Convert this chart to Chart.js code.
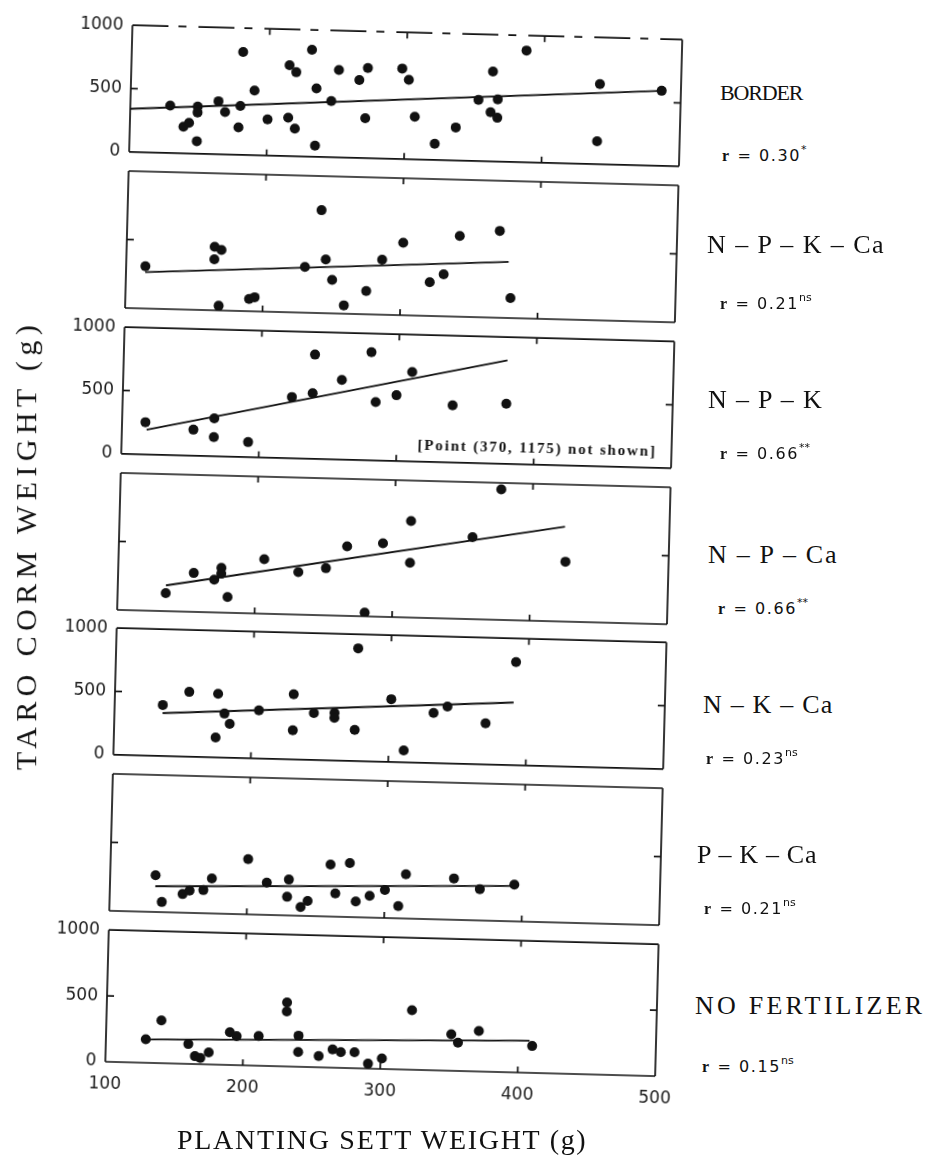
<!DOCTYPE html>
<html lang="en">
<head>
<meta charset="UTF-8" />
<title>Taro corm weight vs planting sett weight</title>
<script src="https://cdn.jsdelivr.net/npm/chart.js"></script>
<style>
  body { margin: 0; background: #fff; width: 932px; height: 1165px; overflow: hidden; position: relative; color: #111; }
  #fig { position: absolute; left: 0; top: 0; width: 932px; height: 1165px; transform: rotate(1.5deg); transform-origin: 466px 582px; }
  canvas { position: absolute; }
  .lbl { position: absolute; white-space: nowrap; line-height: 1; }
  .lbl sup { font-size: 11px; vertical-align: 8px; letter-spacing: 0; }
  .rr { font-family: "Liberation Serif", serif; font-weight: bold; }
</style>
</head>
<body>
<div id="fig"></div>
<script>
  // axis ticks
  const xTicks = [100, 200, 300, 400, 500];
  const yTicks = [0, 500, 1000];

  // treatments, top to bottom, with their correlation and significance
  const treatments = ["BORDER", "N-P-K-Ca", "N-P-K", "N-P-Ca", "N-K-Ca", "P-K-Ca", "NO FERTILIZER"];
  const rValues = ["0.30", "0.21", "0.66", "0.66", "0.23", "0.21", "0.15"];
  const rSig = ["*", "ns", "**", "**", "ns", "ns", "ns"];

  // planting sett weight (g) / taro corm weight (g)
  const borderX = [129, 139, 143, 149, 149, 149, 164, 169, 179, 180, 181, 190, 200, 215, 215, 220, 220, 231, 235, 235, 246, 251, 266, 271, 272, 297, 302, 307, 322, 337, 353, 363, 362, 367, 367, 387, 441, 440, 486];
  const borderY = [373, 210, 241, 98, 372, 325, 418, 334, 215, 385, 812, 510, 285, 302, 717, 663, 217, 844, 540, 87, 443, 690, 614, 315, 712, 714, 627, 336, 127, 260, 483, 710, 388, 345, 491, 882, 632, 180, 592];
  const borderFit = [[100, 340], [486, 592]];

  const npkcaX = [114, 164, 169, 164, 168, 190, 194, 230, 241, 245, 250, 259, 275, 286, 301, 321, 331, 342, 371, 380];
  const npkcaY = [308, 464, 441, 372, 34, 90, 103, 334, 751, 392, 244, 61, 170, 401, 529, 246, 307, 590, 634, 146];
  const npkcaFit = [[114, 265], [378, 409]];

  const npkX = [117, 152, 167, 167, 192, 223, 239, 238, 259, 280, 284, 299, 310, 340, 379];
  const npkY = [254, 205, 299, 151, 118, 483, 823, 518, 629, 853, 461, 519, 705, 450, 475];
  const npkFit = [[118, 195], [379, 817]];

  const npcaX = [135, 155, 170, 175, 175, 180, 206, 231, 251, 266, 280, 292, 312, 312, 357, 377, 425];
  const npcaY = [132, 284, 239, 326, 284, 115, 398, 310, 344, 507, 28, 537, 704, 399, 598, 952, 437];
  const npcaFit = [[135, 188], [424, 693]];

  const nkcaX = [135, 154, 175, 174, 180, 184, 205, 230, 230, 245, 260, 260, 276, 275, 301, 311, 332, 342, 370, 391];
  const nkcaY = [402, 511, 502, 157, 347, 267, 379, 514, 230, 369, 375, 336, 890, 245, 495, 93, 396, 449, 324, 814];
  const nkcaFit = [[135, 338], [390, 494]];

  const pkcaX = [133, 138, 153, 158, 168, 174, 200, 214, 230, 229, 239, 244, 260, 264, 274, 279, 289, 300, 310, 315, 350, 369, 394];
  const pkcaY = [268, 74, 136, 162, 169, 256, 403, 236, 262, 136, 64, 109, 379, 170, 394, 115, 159, 205, 89, 323, 302, 229, 268];
  const pkcaFit = [[133, 188], [393, 258]];

  const noneX = [129, 140, 160, 165, 169, 175, 190, 195, 211, 231, 231, 240, 240, 255, 265, 271, 281, 291, 301, 322, 351, 356, 371, 410];
  const noneY = [178, 324, 151, 60, 47, 91, 248, 220, 225, 486, 417, 236, 112, 86, 139, 119, 122, 37, 79, 452, 277, 214, 307, 204];
  const noneFit = [[129, 178], [408, 244]];

  const panels = [
    { x: borderX, y: borderY, fit: borderFit },
    { x: npkcaX, y: npkcaY, fit: npkcaFit },
    { x: npkX, y: npkY, fit: npkFit },
    { x: npcaX, y: npcaY, fit: npcaFit },
    { x: nkcaX, y: nkcaY, fit: nkcaFit },
    { x: pkcaX, y: pkcaY, fit: pkcaFit },
    { x: noneX, y: noneY, fit: noneFit },
  ];

  // layout (before the slight scan rotation of #fig)
  const plotLeft = 118, plotRight = 668, plotH = 137, canvasW = 700, pad = 14;
  const panelTops = [29, 180, 331, 482, 632, 783, 934];

  // frame with inward ticks, like the printed figure
  const framePlugin = {
    id: "frame",
    afterDraw(chart, args, opts) {
      const { ctx, chartArea: a, scales: { x, y } } = chart;
      const seg = (x1, y1, x2, y2) => { ctx.beginPath(); ctx.moveTo(x1, y1); ctx.lineTo(x2, y2); ctx.stroke(); };
      ctx.save();
      ctx.strokeStyle = "#111";
      ctx.lineWidth = 1.7;
      if (opts.dashTop) ctx.setLineDash([36, 10, 8, 12]);
      seg(a.left, a.top, a.right, a.top);
      ctx.setLineDash([]);
      seg(a.left, a.bottom, a.right, a.bottom);
      seg(a.left, a.top, a.left, a.bottom);
      seg(a.right, a.top, a.right, a.bottom);
      xTicks.slice(1, -1).forEach((v) => {
        const px = x.getPixelForValue(v);
        seg(px, a.top, px, a.top + 6);
        seg(px, a.bottom, px, a.bottom - 6);
      });
      const py = y.getPixelForValue(500);
      seg(a.left, py, a.left + 7, py);
      seg(a.right, py, a.right - 7, py);
      ctx.restore();
    },
  };

  const fig = document.getElementById("fig");
  const tickFont = { family: "DejaVu Sans", size: 17 };

  panels.forEach((p, i) => {
    const last = i === panels.length - 1;
    const showY = i % 2 === 0;
    const xAxisH = last ? 46 : 0;
    const cv = document.createElement("canvas");
    cv.width = canvasW;
    cv.height = pad + plotH + (last ? xAxisH : pad);
    cv.style.left = "0px";
    cv.style.top = panelTops[i] - pad + "px";
    fig.appendChild(cv);

    new Chart(cv.getContext("2d"), {
      type: "scatter",
      data: {
        datasets: [
          {
            type: "line",
            data: p.fit.map((d) => ({ x: d[0], y: d[1] })),
            borderColor: "#111",
            borderWidth: 1.8,
            pointRadius: 0,
            fill: false,
          },
          {
            data: p.x.map((v, k) => ({ x: v, y: p.y[k] })),
            backgroundColor: "#111",
            borderWidth: 0,
            pointRadius: 5,
          },
        ],
      },
      options: {
        responsive: false,
        animation: false,
        devicePixelRatio: 1,
        layout: { padding: { left: 0, right: canvasW - plotRight, top: pad, bottom: last ? 0 : pad } },
        plugins: { legend: { display: false }, tooltip: { enabled: false }, frame: { dashTop: i === 0 } },
        scales: {
          x: {
            type: "linear",
            min: 100,
            max: 500,
            afterBuildTicks: (s) => { s.ticks = xTicks.map((v) => ({ value: v })); },
            afterFit: (s) => { s.height = xAxisH; },
            grid: { display: false, drawTicks: false },
            border: { display: false },
            ticks: { display: last, autoSkip: false, maxRotation: 0, padding: 12, font: tickFont, color: "#1a1a1a", callback: (v) => String(v) },
          },
          y: {
            min: 0,
            max: 1000,
            afterBuildTicks: (s) => { s.ticks = yTicks.map((v) => ({ value: v })); },
            afterFit: (s) => { s.width = plotLeft; },
            grid: { display: false, drawTicks: false },
            border: { display: false },
            ticks: { display: showY, autoSkip: false, padding: 9, font: tickFont, color: "#1a1a1a", callback: (v) => String(v) },
          },
        },
      },
      plugins: [framePlugin],
    });
  });

  // text helpers: place a label and stretch its letter spacing to a target width
  function addLabel(parent, html, x, yc, size, family, w) {
    const d = document.createElement("div");
    d.className = "lbl";
    d.innerHTML = html;
    d.style.fontSize = size + "px";
    d.style.fontFamily = family;
    d.style.left = x + "px";
    d.style.top = yc - size * 0.5 + "px";
    parent.appendChild(d);
    if (w) {
      const n = d.textContent.length;
      d.style.letterSpacing = (w - d.offsetWidth) / n + "px";
    }
    return d;
  }

  const note = addLabel(fig, "[Point (370, 1175) not shown]", 414, 446, 15, "Liberation Serif", 234);
  note.style.fontWeight = "bold";

  const serif = '"Liberation Serif", serif';
  const nameX = [720, 707, 708, 708, 703, 697, 695];
  const nameY = [93, 245, 400, 555, 705, 855, 1006];
  const nameW = [82, 178, 115, 130, 130, 120, 230];
  const rX = [722, 720, 720, 718, 706, 704, 702];
  const rY = [152, 300, 450, 605, 755, 905, 1063];
  treatments.forEach((t, i) => {
    const txt = t.includes("-") ? t.split("-").join(" \u2013 ") : t;
    addLabel(document.body, txt, nameX[i], nameY[i], i === 0 ? 22 : 26, serif, nameW[i]);
    const r = addLabel(document.body, '<span class="rr">r</span>  =  ' + rValues[i], rX[i], rY[i], 16, '"DejaVu Sans", sans-serif', 82);
    const s = document.createElement("sup");
    s.textContent = rSig[i];
    r.appendChild(s);
  });

  addLabel(document.body, "PLANTING SETT WEIGHT (g)", 177, 1140, 28, serif, 410);
  const yt = addLabel(document.body, "TARO CORM WEIGHT (g)", 0, 0, 30, serif, 450);
  yt.style.left = 26 - yt.offsetWidth / 2 + "px";
  yt.style.top = 545 - 15 + "px";
  yt.style.transform = "rotate(-90deg)";
</script>
</body>
</html>
